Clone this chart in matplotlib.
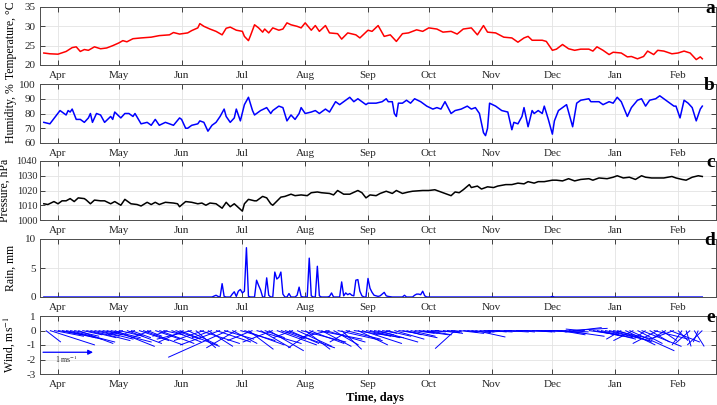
import numpy as np
import matplotlib
matplotlib.use('Agg')
import matplotlib.pyplot as plt
from matplotlib.collections import LineCollection

plt.rcParams['font.family'] = ['Liberation Serif', 'DejaVu Serif']
plt.rcParams['mathtext.fontset'] = 'stix'
plt.rcParams['axes.unicode_minus'] = False

# ---------------- data (day offsets from 1 April) ----------------
month_days = [0, 30, 61, 91, 122, 153, 183, 214, 244, 275, 306]
month_labels = ['Apr', 'May', 'Jun', 'Jul', 'Aug', 'Sep', 'Oct', 'Nov', 'Dec', 'Jan', 'Feb']

temp_days = [-7, -4, 0, 4, 7, 9, 11, 13, 15, 18, 21, 24, 27, 30, 32, 34, 37, 41, 46, 50, 55, 57, 60,
             64, 66, 69, 70, 72, 75, 78, 81, 83, 85, 88, 91, 92, 94, 95, 97, 99, 101, 102, 104, 106,
             109, 111, 113, 115, 118, 120, 122, 125, 127, 129, 132, 134, 138, 140, 143, 147, 149,
             153, 155, 158, 161, 164, 167, 170, 173, 177, 180, 183, 187, 190, 194, 197, 200, 204,
             207, 210, 212, 216, 220, 224, 227, 230, 232, 234, 239, 241, 244, 246, 249, 252, 255,
             258, 262, 264, 266, 269, 272, 274, 278, 281, 283, 286, 289, 291, 294, 296, 299, 303,
             306, 309, 312, 315, 317, 318]
temp_vals = [23.1, 22.9, 22.8, 23.5, 24.5, 24.7, 23.5, 24.0, 23.8, 24.7, 24.2, 24.4, 25.0, 25.7, 26.3,
             26.0, 26.8, 27.0, 27.2, 27.6, 27.8, 28.4, 28.0, 28.3, 28.9, 29.6, 30.7, 30.0, 29.3, 28.7,
             27.8, 29.5, 29.8, 29.0, 28.7, 27.4, 26.3, 27.6, 30.4, 29.6, 28.5, 29.3, 28.3, 29.6, 29.0,
             29.3, 30.9, 30.4, 30.0, 29.6, 30.9, 29.0, 30.2, 28.7, 30.2, 28.3, 28.1, 26.7, 28.3, 27.8,
             27.0, 29.0, 28.7, 30.2, 27.4, 27.8, 26.1, 28.1, 28.3, 29.1, 28.7, 29.6, 29.3, 28.5, 28.7,
             28.0, 29.3, 29.6, 27.8, 30.2, 28.5, 28.3, 27.2, 27.0, 25.9, 27.0, 27.4, 26.4, 26.4, 26.1,
             23.8, 24.1, 25.3, 24.2, 23.8, 24.1, 24.1, 23.6, 24.7, 23.8, 22.7, 23.3, 23.1, 22.1, 22.2,
             21.6, 22.2, 23.6, 22.7, 23.8, 23.6, 22.9, 23.1, 23.6, 23.1, 21.4, 22.1, 21.6]

hum_days = [-7, -4, 1, 4, 5, 6, 7, 9, 11, 13, 15, 16, 17, 19, 21, 23, 26, 27, 28, 31, 33, 35, 37, 38,
            41, 44, 46, 48, 50, 53, 55, 57, 60, 61, 63, 64, 66, 69, 70, 72, 74, 76, 78, 80, 82, 83,
            85, 87, 88, 90, 92, 94, 96, 97, 100, 103, 105, 106, 109, 111, 113, 115, 117, 119, 120,
            122, 125, 127, 129, 132, 134, 137, 139, 143, 144, 146, 148, 150, 152, 153, 157, 160, 162,
            163, 165, 166, 167, 168, 170, 172, 174, 176, 179, 182, 185, 187, 189, 191, 194, 196, 199,
            202, 204, 206, 208, 210, 211, 212, 213, 216, 219, 222, 224, 225, 227, 229, 230, 232, 234,
            235, 237, 239, 240, 242, 244, 245, 247, 249, 251, 253, 254, 256, 258, 262, 263, 267, 269,
            272, 274, 276, 278, 281, 283, 286, 288, 290, 292, 295, 297, 299, 301, 304, 305, 307, 309,
            311, 313, 315, 317, 318]
hum_vals = [74, 73, 82, 79, 82, 81, 83, 76, 76, 74, 77, 80, 74, 80, 79, 74, 78, 76, 81, 77, 80, 80, 78, 80,
            73, 74, 72, 76, 72, 74, 73, 72, 77, 76, 70, 70, 72, 73, 75, 74, 68, 72, 74, 78, 83, 78,
            74, 77, 83, 75, 86, 91, 82, 79, 82, 84, 80, 82, 85, 84, 75, 79, 76, 80, 84,
            80, 81, 82, 80, 83, 81, 88, 86, 90, 91, 88, 90, 88, 86, 87, 87, 88, 90,
            88, 88, 80, 78, 87, 87, 89, 87, 90, 88, 85, 83, 84, 83, 88, 80, 82, 83,
            85, 83, 84, 80, 67, 65, 70, 87, 85, 82, 81, 69, 74, 73, 78, 84, 71, 82,
            80, 82, 80, 85, 76, 66, 75, 82, 84, 86, 76, 71, 87, 89, 90, 88, 88, 86,
            88, 87, 91, 88, 78, 84, 89, 90, 85, 89, 90, 92, 90, 88, 85, 85, 77, 89,
            87, 84, 75, 83, 85]

pres_days = [-7, -5, -2, 0, 2, 4, 6, 8, 10, 13, 14, 16, 18, 21, 23, 26, 28, 31, 33, 36, 39, 41, 44, 46,
             48, 50, 53, 57, 59, 60, 63, 66, 69, 71, 73, 75, 78, 81, 83, 85, 87, 89, 91, 92, 94, 97,
             98, 101, 103, 105, 106, 110, 112, 115, 117, 120, 123, 125, 128, 130, 134, 136, 138, 141,
             144, 148, 150, 152, 154, 157, 159, 162, 165, 167, 170, 173, 175, 180, 183, 186, 189, 194,
             196, 198, 200, 203, 204, 207, 209, 212, 215, 217, 221, 224, 227, 230, 232, 235, 237, 240,
             244, 246, 249, 252, 255, 258, 262, 264, 267, 271, 274, 276, 279, 282, 285, 288, 290, 293,
             296, 299, 303, 305, 308, 310, 313, 316, 318]
pres_vals = [1011, 1010.5, 1012.5, 1011, 1013, 1013, 1014.5, 1012.5, 1015, 1014.5, 1013.5, 1011, 1013.5,
             1013, 1013, 1011, 1012.5, 1010, 1014, 1011, 1010.5, 1009.5, 1012, 1010.5, 1012, 1010.5,
             1012, 1011.5, 1011, 1009, 1012.5, 1012, 1011, 1011.5, 1010, 1011.5, 1011, 1008, 1012,
             1009, 1011, 1008.5, 1006, 1011, 1014, 1013, 1013, 1016, 1015, 1011, 1010, 1015.5, 1016,
             1017.5, 1016.5, 1017, 1016.5, 1018.5, 1019, 1018.5, 1018, 1017, 1020, 1017.5, 1017.5,
             1020, 1018.5, 1015, 1017, 1016.5, 1018, 1019.5, 1018, 1020, 1018, 1019, 1019.5, 1020,
             1020, 1020.5, 1019, 1016.5, 1019, 1018.5, 1020.5, 1024, 1022, 1023, 1021, 1022.5, 1022,
             1023, 1024, 1024, 1025, 1024.5, 1026, 1025, 1026, 1026, 1027, 1027, 1026.5, 1028, 1026.5,
             1027.5, 1028, 1027, 1028.5, 1028, 1029, 1030, 1028.5, 1029, 1027.5, 1030, 1029, 1028.5,
             1028.5, 1028.5, 1029.5, 1028.5, 1027.5, 1027, 1029, 1030, 1029.5]

rain_days = [-7, 76, 78, 79, 80, 81, 82, 83, 85, 86, 87, 88, 89, 90, 91, 92, 93, 94, 95, 97, 98, 99, 100,
             101, 102, 103, 104, 105, 106, 107, 108, 109, 110, 111, 112, 113, 114, 115, 117, 118, 119,
             120, 121, 123, 124, 125, 126, 127, 128, 129, 130, 133, 134, 135, 136, 139, 140, 141, 142,
             143, 144, 145, 146, 147, 148, 149, 150, 151, 152, 153, 154, 155, 156, 157, 158, 159, 160,
             161, 162, 163, 165, 170, 171, 172, 175, 176, 177, 178, 179, 180, 181, 182, 243, 244, 245,
             318]
rain_vals = [0, 0, 0.3, 0.1, 0.0, 2.3, 0.1, 0, 0, 0.5, 0.9, 0.1, 1.0, 1.3, 0.7, 1.0, 8.5, 0.1, 0, 0, 2.9,
             2.0, 1.2, 0, 0, 3.3, 0.3, 0, 0, 4.3, 3.1, 3.4, 4.3, 0.5, 0, 0, 0.6, 0, 0, 0.3, 1.7,
             0.1, 0, 0, 6.7, 0.2, 0, 0, 5.3, 0.2, 0, 0, 0.1, 0.7, 0, 0, 2.6, 0.2, 0.7,
             0.4, 0.6, 0.3, 0.2, 2.9, 3.0, 1.0, 0.2, 0, 0, 3.2, 1.5, 0.8, 0.3, 0.2, 0.1, 0.2, 0.5,
             0.8, 0.2, 0.1, 0, 0, 0.3, 0, 0, 0.3, 0.5, 0.5, 0.4, 1.0, 0.2, 0, 0, 0.1, 0,
             0]

wind_days = np.arange(-6, 319, 2)
wind_u = [0.3, 0.9, 0.6, 0.5, 0.8, 0.6, 0.9, 0.5, 0.7, 0.4, 0.6, 0.8, 0.5, 0.7, 0.4, 0.9, 0.6, 0.8,
          0.5, -0.3, 0.7, 0.4, -0.2, 0.6, 0.8, 0.3, -0.4, 0.5, 0.7, 0.4, -0.3, 0.6, 0.5, 0.8,
          -0.5, 0.6, -0.7, 0.4, 0.8, -0.6, 0.5, -0.4, 0.7, -0.8, 0.6, -1.2, 0.5, -0.6, 0.7,
          0.8, 0.5, -0.5, 0.9, 0.6, 0.4, 0.7, -0.6, 0.8, 0.5, 1.0, 0.6, -0.4, 0.7, 0.9, 0.5,
          0.7, -0.5, 0.9, 0.6, 0.8, -0.6, 0.5, 0.9, 0.4, 0.7, -0.4, 1.0, 0.6, 0.8, 0.5,
          0.6, 0.4, 0.8, 0.3, 0.5, -0.3, 0.6, 0.4, 0.7, 0.3, 0.5, 0.4, 0.6, 0.3, 0.5,
          0.3, 0.5, -0.2, 0.4, 0.3, 0.2, -0.4, 0.5, 0.3, 0.2, 0.4, 0.6, 0.3, 0.2, 0.5, 0.3,
          0.4, -0.3, 0.5, 0.3, -0.4, 0.6, 0.3, 0.5, -0.3, 0.4, 0.6, 0.3, 0.5, 0.4, 0.3,
          0.6, 0.5, 0.8, 0.4, 0.7, 0.5, -0.3, -0.4, 0.6, 0.8, 0.5, 0.7, 0.9, 0.6, 0.8,
          0.7, -0.3, 0.6, 0.9, -0.4, 0.5, 0.8, -0.2, 0.4, 0.7, -0.5, 0.3, -0.3, 0.6, -0.4, 0.2,
          -0.2, 0.1, -0.3, 0.2, -0.1, -0.3]
wind_v = [-0.8, -1.0, -0.4, -0.3, -0.6, -0.5, -0.8, -0.4, -0.9, -0.3, -0.5, -0.7, -0.4, -0.6, -0.3, -0.8, -0.5, -1.1,
          -0.4, -0.3, -0.9, -0.5, -0.2, -0.7, -1.0, -0.4, -0.5, -0.6, -0.9, -0.3, -0.4, -0.8, -0.6, -1.1,
          -0.8, -1.0, -0.6, -1.2, -0.9, -0.7, -1.1, -0.5, -0.8, -1.0, -0.6, -1.85, -0.9, -1.2, -0.7,
          -1.0, -1.3, -0.7, -0.9, -1.2, -0.5, -1.4, -0.8, -1.0, -0.6, -1.2, -0.9, -0.5, -1.1, -0.8, -1.3,
          -0.9, -1.2, -0.6, -1.1, -0.8, -0.5, -1.0, -0.7, -1.3, -0.6, -0.8, -0.5, -1.0, -0.9, -0.4,
          -0.5, -0.3, -0.8, -0.2, -0.4, -0.3, -0.6, -0.2, -0.5, -0.3, -0.4, -0.2, -0.3, -0.2, -0.3,
          -0.1, -0.15, -0.1, -0.2, -0.1, -0.05, -1.25, -0.2, -0.1, -0.1, -0.15, -0.45, -0.1, -0.05, -0.1, -0.1,
          -0.05, -0.05, -0.1, -0.05, -0.1, -0.05, -0.1, -0.05, -0.05, -0.1, -0.05, -0.1, -0.05, -0.05, -0.1,
          -0.2, -0.3, -0.4, -0.1, 0.15, 0.2, 0.1, -0.1, -0.3, -0.5, -0.4, -0.6, -0.7, -0.5, -0.6,
          -0.8, -0.6, -1.0, -1.4, -0.7, -0.9, -1.1, -0.5, -0.8, -0.6, -0.9, -0.7, -0.6, -0.8, -0.5, -0.7,
          -1.0, -1.1, -0.9, -1.1, -0.8, -1.0]

# ---------------- layout ----------------
W, H = 717, 405
fig = plt.figure(figsize=(W / 100, H / 100), dpi=100)

AX_L, AX_R = 40, 716
panel_px = [(7, 65), (84, 143), (161, 220), (239, 297), (316, 374)]
px_per_day = (678 - 58) / 306.0
xlim = (0 - (58 - AX_L) / px_per_day, 0 + (AX_R - 58) / px_per_day)
days_per_ms = 50 / px_per_day   # 1 m/s reference arrow = 50 px

tick_col = '#262626'
grid_col = '#e3e3e3'
spine_col = '#4d4d4d'

axes = []
for (t, b) in panel_px:
    ax = fig.add_axes([AX_L / W, 1 - b / H, (AX_R - AX_L) / W, (b - t) / H])
    ax.set_xlim(*xlim)
    ax.set_xticks(month_days)
    ax.set_xticklabels(month_labels)
    ax.tick_params(direction='in', top=True, right=True, length=3.5, width=0.6,
                   colors=tick_col, labelsize=8, pad=3)
    ax.tick_params(axis='x', pad=4)
    ax.grid(True, color=grid_col, lw=0.6, zorder=0)
    ax.set_axisbelow(True)
    for s in ax.spines.values():
        s.set_color(spine_col)
        s.set_linewidth(0.7)
    axes.append(ax)

lab_fs = 8.5

# a: temperature
ax = axes[0]
ax.plot(temp_days, temp_vals, color='#ff0000', lw=1.1)
ax.set_ylim(20, 35)
ax.set_yticks([20, 25, 30, 35])
ax.set_ylabel('Temperature, °C', fontsize=lab_fs)

# b: humidity
ax = axes[1]
ax.plot(hum_days, hum_vals, color='#0000ff', lw=1.1)
ax.set_ylim(60, 100)
ax.set_yticks([60, 70, 80, 90, 100])
ax.set_ylabel('Humidity, %', fontsize=lab_fs)

# c: pressure
ax = axes[2]
ax.plot(pres_days, pres_vals, color='black', lw=1.1)
ax.set_ylim(1000, 1040)
ax.set_yticks([1000, 1010, 1020, 1030, 1040])
ax.tick_params(axis='y', labelsize=7.5, pad=2)
ax.set_ylabel('Pressure, hPa', fontsize=lab_fs)

# d: rain
ax = axes[3]
ax.plot(rain_days, rain_vals, color='#0000ff', lw=1.0)
ax.set_ylim(0, 10)
ax.set_yticks([0, 5, 10])
ax.set_ylabel('Rain, mm', fontsize=lab_fs)

# e: wind sticks
ax = axes[4]
wu = np.asarray(wind_u)
wv = np.asarray(wind_v)
segs = [[(d, 0.0), (d + u * days_per_ms, v)] for d, u, v in zip(wind_days, wu, wv)]
ax.add_collection(LineCollection(segs, colors='#0000ff', linewidths=0.7))
ax.set_ylim(-3, 1)
ax.set_yticks([-3, -2, -1, 0, 1])
ax.set_ylabel('Wind, ms$^{-1}$', fontsize=lab_fs)
ref_x0 = xlim[0] + 1.5
ax.annotate('', xy=(ref_x0 + days_per_ms, -1.5), xytext=(ref_x0, -1.5),
            arrowprops=dict(arrowstyle='-|>', color='#0000ff', lw=0.9,
                            mutation_scale=7, shrinkA=0, shrinkB=0))
ax.text(ref_x0 + 6, -2.0, '1 ms$^{-1}$', fontsize=5.5, color=tick_col, va='center')

label_right_px = [17, 17, 11, 17, 17]
for i, ax in enumerate(axes):
    ax.yaxis.set_label_coords((label_right_px[i] - AX_L) / (AX_R - AX_L),
                              0.42 if i == 0 else 0.5)

# panel letters
for (t, b), letter in zip(panel_px, 'abcde'):
    fig.text(715 / W, 1 - (t + 6) / H, letter, ha='right', va='baseline',
             fontsize=14, fontweight='bold', color='black')

fig.text(375 / W, 1 - 398 / H, 'Time, days', ha='center', va='center',
         fontsize=9, fontweight='bold')

fig.savefig('out.png', dpi=100)
